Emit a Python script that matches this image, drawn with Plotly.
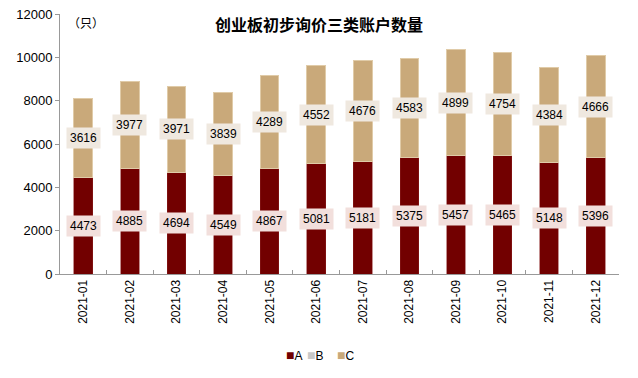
import plotly.graph_objects as go

months = ["2021-01", "2021-02", "2021-03", "2021-04", "2021-05", "2021-06",
          "2021-07", "2021-08", "2021-09", "2021-10", "2021-11", "2021-12"]
a_vals = [4473, 4885, 4694, 4549, 4867, 5081, 5181, 5375, 5457, 5465, 5148, 5396]
b_vals = [0] * 12
c_vals = [3616, 3977, 3971, 3839, 4289, 4552, 4676, 4583, 4899, 4754, 4384, 4666]
series_names = ["A", "B", "C"]

col_a = "#720000"
col_b = "#C8C8C8"
col_c = "#C9A97A"
colors = [col_a, col_b, col_c]
font = "Liberation Sans, Arial, sans-serif"

# plot area at x 60..619, y 14..274 (page body margin removed via post_script)
L, R, T, B = 60, 19, 14, 104
W, H = 638, 378
pw, ph = W - L - R, H - T - B


def px(x):
    return (x - L) / pw


def py(y):
    return (H - B - y) / ph


fig = go.Figure()
fig.add_bar(x=months, y=a_vals, name="A", marker=dict(color=col_a, line=dict(color="#8a2020", width=0.5)), width=0.4)
fig.add_bar(x=months, y=b_vals, name="B", marker=dict(color=col_b), width=0.4)
fig.add_bar(x=months, y=c_vals, name="C", marker=dict(color=col_c, line=dict(color="#e0cba8", width=1)), width=0.4)

anns = []
for m, a, c in zip(months, a_vals, c_vals):
    anns.append(dict(x=m, y=a / 2, text=str(a), showarrow=False,
                     bgcolor="#F2DFDC", font=dict(size=12, color="black", family=font),
                     borderpad=3))
    anns.append(dict(x=m, y=a + c / 2, text=str(c), showarrow=False,
                     bgcolor="#EFE8DF", font=dict(size=12, color="black", family=font),
                     borderpad=3))

# unit label
anns.append(dict(xref="paper", yref="paper", x=px(66), y=py(23), xanchor="left", yanchor="middle",
                 text="（只）", showarrow=False, font=dict(size=12, color="black", family="Noto Sans CJK SC")))
# title
anns.append(dict(xref="paper", yref="paper", x=px(319), y=py(24), xanchor="center", yanchor="middle",
                 text="<b>创业板初步询价三类账户数量</b>", showarrow=False,
                 font=dict(size=16, color="black", family="Noto Sans CJK SC")))
# legend
leg_x = [284, 305, 335]
for name, colr, lx in zip(series_names, colors, leg_x):
    anns.append(dict(xref="paper", yref="paper", x=px(lx), y=py(355), xanchor="left", yanchor="middle",
                     text=f"<span style='color:{colr};font-size:14px'>■</span>{name}", showarrow=False,
                     font=dict(size=12, color="black", family=font)))

fig.update_layout(
    width=W, height=H,
    margin=dict(l=L, r=R, t=T, b=B, autoexpand=False),
    paper_bgcolor="white", plot_bgcolor="white",
    barmode="stack",
    font=dict(family=font, size=12, color="black"),
    showlegend=False,
    annotations=anns,
    xaxis=dict(type="category", showline=True, linecolor="#999999", linewidth=1, automargin=False,
               ticks="inside", tickson="boundaries", ticklen=4, tickcolor="#999999",
               tickangle=-90, tickfont=dict(size=12, family=font), showgrid=False),
    yaxis=dict(range=[0, 12000], dtick=2000, tickformat="d", showline=True, linecolor="#999999", linewidth=1,
               automargin=False,
               ticks="outside", ticklen=4, tickcolor="#999999", showgrid=False,
               tickfont=dict(size=13, family=font), zeroline=False),
)

fig.write_html("out.html", config={"displayModeBar": False},
               post_script="document.body.style.margin='0';document.body.style.overflow='hidden';")
